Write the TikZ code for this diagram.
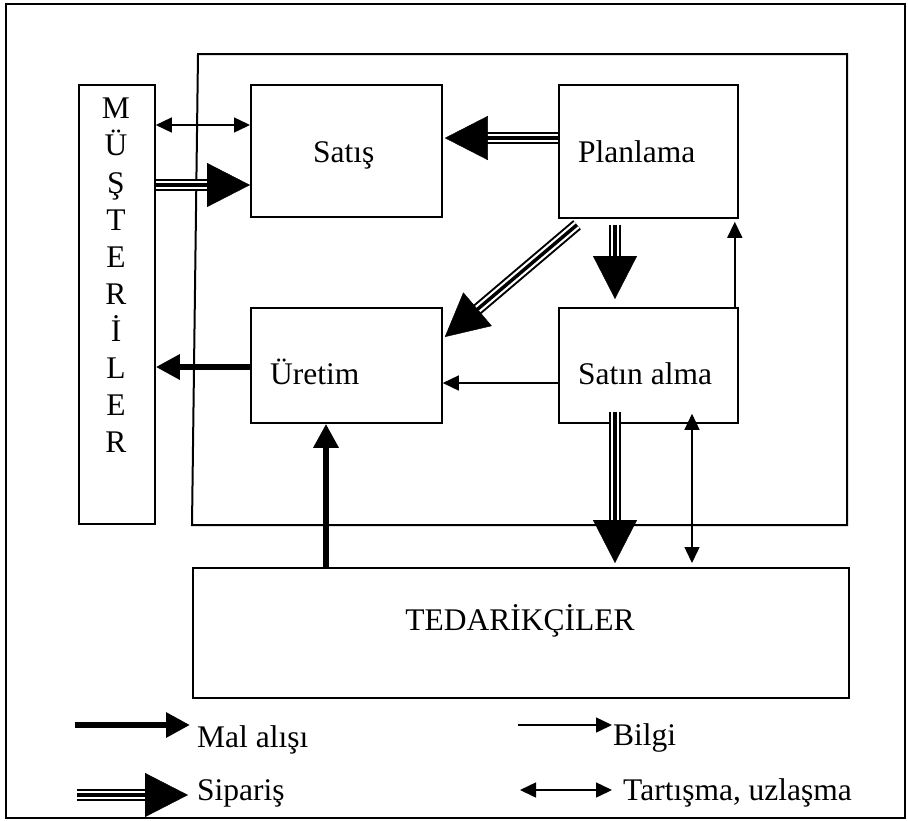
\documentclass[tikz,border=0pt]{standalone}
\usepackage{fontspec}
\setmainfont{Liberation Serif}
\usetikzlibrary{arrows.meta,calc}

% shaft of three parallel lines ending in a large solid head
\newcommand\tripar[2]{%
  \draw[line width=12pt, shorten >=42pt] (#1) -- (#2);
  \draw[line width=8pt, white, shorten >=42pt] (#1) -- (#2);
  \draw[line width=3.5pt, shorten >=42pt] (#1) -- (#2);
  \draw[line width=0.4pt, -{Triangle[length=43pt,width=44pt]}] ($(#2)!43pt!(#1)$) -- (#2);
}

\begin{document}
\begin{tikzpicture}[x=1pt,y=-1pt,
  box/.style={draw, line width=1.8pt, fill=white, inner sep=0pt, anchor=north west},
  txt/.style={font=\fontsize{31.5}{37.1}\selectfont, inner sep=0pt},
  thinarr/.style={line width=1.5pt, -{Triangle[length=16pt,width=15pt]}},
  thinboth/.style={line width=1.5pt, {Triangle[length=16pt,width=15pt]}-{Triangle[length=16pt,width=15pt]}},
  thickarr/.style={line width=6pt, -{Triangle[length=24pt,width=24pt]}}
]
\useasboundingbox (0,0) rectangle (908,820);

% outer border
\draw[line width=2pt] (6,4) rectangle (905,818);

% company frame
\draw[line width=2pt] (198,54) -- (847,54) -- (847,525) -- (192,525) -- cycle;

% boxes
\node[box, minimum width=76, minimum height=439] (mus) at (78,84) {};
\node[txt, align=center, anchor=north] (musl) at (116,98)
  {M\\Ü\\Ş\\T\\E\\R\\İ\\L\\E\\R};
\node[box, minimum width=191, minimum height=132] (sat) at (250,84) {};
\node[txt, anchor=base west] (satl) at (313,162) {Satış};
\node[box, minimum width=179, minimum height=133] (plan) at (558,84) {};
\node[txt, anchor=base west] (planl) at (578,162) {Planlama};
\node[box, minimum width=191, minimum height=115] (uret) at (250,307) {};
\node[txt, anchor=base west] (uretl) at (270,384) {Üretim};
\node[box, minimum width=179, minimum height=115] (satin) at (558,307) {};
\node[txt, anchor=base west] (satinl) at (578,384) {Satın alma};
\node[box, minimum width=656, minimum height=130] (ted) at (192,567) {};
\node[txt, anchor=base] (tedl) at (520,630) {TEDARİKÇİLER};

% connectors
\draw[thinboth] ($(mus.north east)+(0,41)$) -- ($(sat.north west)+(0,41)$);
\tripar{$(mus.north east)+(0,101)$}{$(sat.north west)+(0,101)$}
\tripar{$(plan.north west)+(0,54)$}{$(sat.north east)+(2,54)$}
\tripar{$(plan.south west)+(19,6)$}{$(uret.north east)+(2,30)$}
\tripar{$(plan.south west)+(57,6)$}{$(satin.north west)+(57,-8)$}
\draw[thinarr] ($(satin.north east)+(-4,0)$) -- ($(plan.south east)+(-4,3)$);
\draw[thinarr] ($(satin.north west)+(0,76)$) -- ($(uret.north east)+(0,76)$);
\draw[thickarr] ($(uret.north west)+(0,60)$) -- ($(mus.north east)+(0,283)$);
\draw[thickarr] ($(ted.north west)+(134,0)$) -- ($(uret.south west)+(76,0)$);
\tripar{$(satin.south west)+(57,-12)$}{$(ted.north west)+(423,-4)$}
\draw[thinboth] ($(satin.south west)+(134,-10)$) -- ($(ted.north west)+(500,-4)$);

% legend
\coordinate (m1) at (75,725);  \coordinate (m2) at (190,725);
\coordinate (b1) at (518,725); \coordinate (b2) at (612,725);
\coordinate (s1) at (77,795);  \coordinate (s2) at (188,795);
\coordinate (t1) at (520,790); \coordinate (t2) at (612,790);
\draw[thickarr] (m1) -- (m2);
\node[txt, anchor=base west] (mall) at (197,747) {Mal alışı};
\draw[thinarr] (b1) -- (b2);
\node[txt, anchor=base west] (bilgil) at (613,745) {Bilgi};
\tripar{s1}{s2}
\node[txt, anchor=base west] (sipl) at (197,800) {Sipariş};
\draw[thinboth] (t1) -- (t2);
\node[txt, anchor=base west] (tartl) at (623,800) {Tartışma, uzlaşma};
\end{tikzpicture}
\end{document}
